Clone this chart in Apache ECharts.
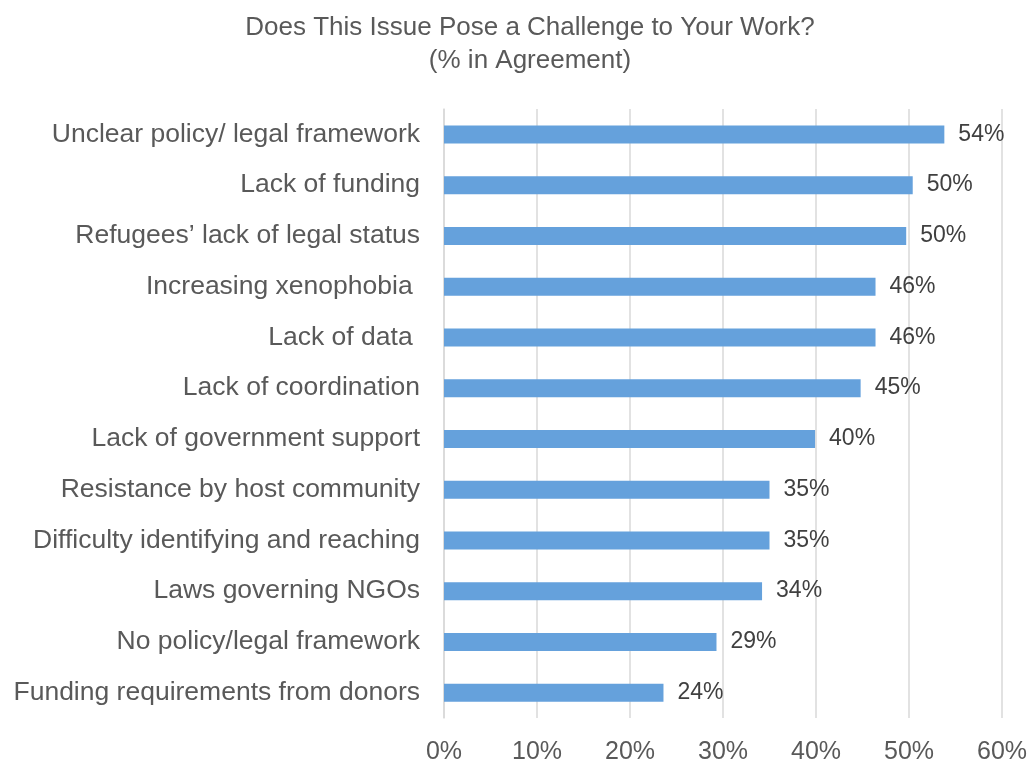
<!DOCTYPE html>
<html>
<head>
<meta charset="utf-8">
<script src="https://cdn.jsdelivr.net/npm/echarts@6/dist/echarts.min.js"></script>
<style>
  html, body { margin: 0; padding: 0; background: #fff; }
  #chart { width: 1033px; height: 765px; }
</style>
</head>
<body>
<div id="chart"></div>
<script>
// categories, top to bottom as in the picture
const categories = [
  'Unclear policy/ legal framework',
  'Lack of funding',
  'Refugees\u2019 lack of legal status',
  'Increasing xenophobia ',
  'Lack of data ',
  'Lack of coordination',
  'Lack of government support',
  'Resistance by host community',
  'Difficulty identifying and reaching',
  'Laws governing NGOs',
  'No policy/legal framework',
  'Funding requirements from donors'
]
// % in agreement
const values = [53.8, 50.4, 49.7, 46.4, 46.4, 44.8, 39.9, 35.0, 35.0, 34.2, 29.3, 23.6]
const xTicks = [0, 10, 20, 30, 40, 50, 60]

const fontFamily = '"Liberation Sans", Arial, sans-serif'
const chart = echarts.init(document.getElementById('chart'))

const option = {
  animation: false,
  title: {
    text: 'Does This Issue Pose a Challenge to Your Work?\n(% in Agreement)',
    left: 525,
    top: 6,
    textAlign: 'center',
    textStyle: {
      color: '#595959',
      fontFamily: fontFamily,
      fontWeight: 'normal',
      fontSize: 26,
      lineHeight: 33
    }
  },
  grid: {
    left: 444,
    right: 31,
    top: 109,
    bottom: 38,
    containLabel: false
  },
  xAxis: {
    type: 'value',
    min: xTicks[0],
    max: xTicks[xTicks.length - 1],
    interval: 10,
    axisLine: { show: false },
    axisTick: { show: false },
    splitLine: { lineStyle: { color: '#d9d9d9', width: 1.5 } },
    axisLabel: {
      margin: 22,
      formatter: '{value}%',
      color: '#595959',
      fontSize: 25,
      fontFamily: fontFamily
    }
  },
  yAxis: {
    type: 'category',
    inverse: true,
    data: categories,
    axisLine: { show: true, lineStyle: { color: '#d9d9d9', width: 1.5 } },
    axisTick: { show: false },
    axisLabel: {
      margin: 24,
      color: '#595959',
      fontSize: 26.5,
      fontFamily: fontFamily
    }
  },
  series: [
    {
      type: 'bar',
      data: values,
      barWidth: 18,
      itemStyle: { color: '#65a1dc' },
      label: {
        show: true,
        position: 'right',
        distance: 14,
        formatter: (p) => Math.round(p.value) + '%',
        color: '#404040',
        fontSize: 23,
        fontFamily: fontFamily
      }
    }
  ]
}

chart.setOption(option)
</script>
</body>
</html>
